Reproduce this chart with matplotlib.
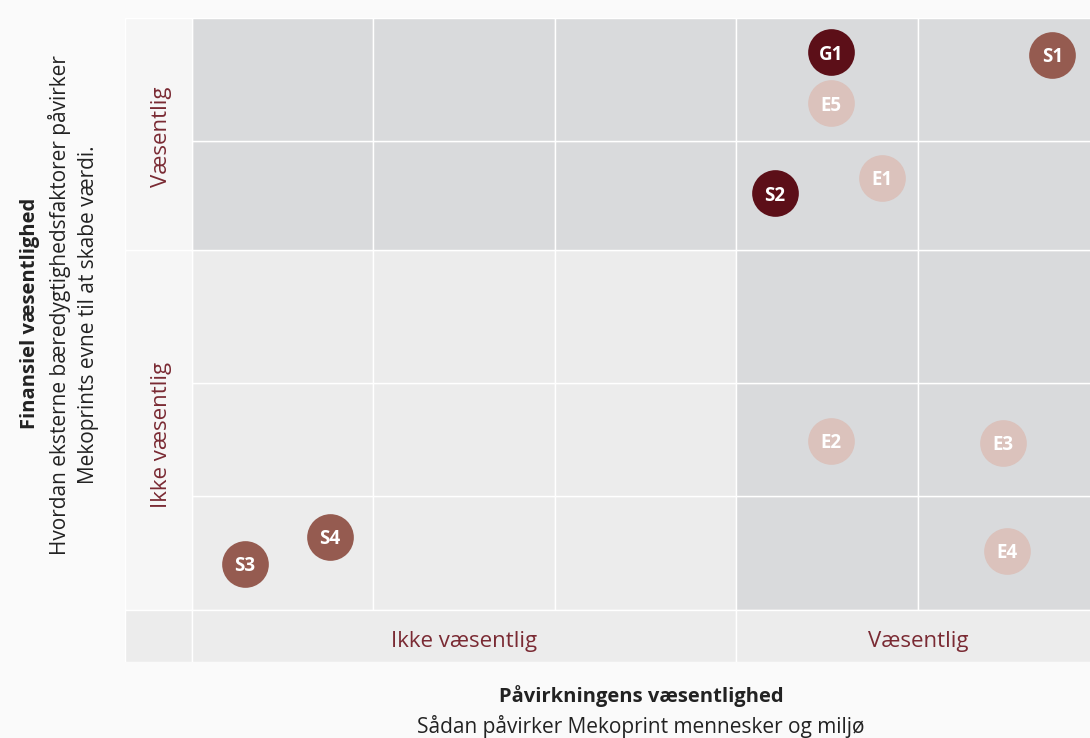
import matplotlib.pyplot as plt
from matplotlib.patches import Rectangle

# materiality matrix: x = impact materiality, y = financial materiality
labels = ["G1", "S1", "E5", "E1", "S2", "E2", "E3", "E4", "S3", "S4"]
x_vals = [3.52, 4.74, 3.52, 3.80, 3.21, 3.52, 4.47, 4.49, 0.29, 0.76]
y_vals = [4.71, 4.69, 4.28, 3.65, 3.52, 1.43, 1.41, 0.50, 0.39, 0.62]
groups = ["dark", "mid", "light", "light", "dark", "light", "light", "light", "mid", "mid"]

col_edges = [0, 1, 2, 3, 4, 5]
row_edges = [0, 0.96, 1.92, 3.04, 3.96, 5]

x_cat_labels = ["Ikke væsentlig", "Væsentlig"]
y_cat_labels = ["Ikke væsentlig", "Væsentlig"]

colors = {"dark": "#5c0f18", "mid": "#955b50", "light": "#dbc2bc"}
dark_bg = "#d9dadc"
light_bg = "#ececec"
band_bg = "#f6f6f6"
maroon = "#7a2a33"
text_col = "#222222"

plt.rcParams['font.family'] = ['Open Sans', 'DejaVu Sans']

fig = plt.figure(figsize=(10.9, 7.38), dpi=100)
fig.patch.set_facecolor("#fafafa")

x0, x1 = -0.369, 4.948
y0, y1 = -0.44, 5.0
ax = fig.add_axes([125 / 1090, 76 / 738, 965 / 1090, 644 / 738])
ax.set_xlim(x0, x1)
ax.set_ylim(y0, y1)
ax.axis("off")

# cells
for i in range(5):
    for j in range(5):
        fc = dark_bg if (j >= 3 or i >= 3) else light_bg
        ax.add_patch(Rectangle((col_edges[i], row_edges[j]),
                               col_edges[i + 1] - col_edges[i],
                               row_edges[j + 1] - row_edges[j],
                               facecolor=fc, edgecolor="white", lw=1.0))

# left band
ax.add_patch(Rectangle((x0, 0), -x0, row_edges[3], facecolor=band_bg,
                       edgecolor="white", lw=1.0))
ax.add_patch(Rectangle((x0, row_edges[3]), -x0, y1 - row_edges[3],
                       facecolor=band_bg, edgecolor="white", lw=1.0))
# bottom band
ax.add_patch(Rectangle((x0, y0), -x0, -y0, facecolor=light_bg,
                       edgecolor="white", lw=1.0))
ax.add_patch(Rectangle((0, y0), 3, -y0, facecolor=light_bg,
                       edgecolor="white", lw=1.0))
ax.add_patch(Rectangle((3, y0), 2, -y0, facecolor=light_bg,
                       edgecolor="white", lw=1.0))

ax.text(1.5, -0.27, x_cat_labels[0], ha="center", va="center",
        color=maroon, fontsize=16)
ax.text(4.0, -0.27, x_cat_labels[1], ha="center", va="center",
        color=maroon, fontsize=16)
ax.text(-0.17, 1.48, y_cat_labels[0], ha="center", va="center",
        color=maroon, fontsize=16, rotation=90)
ax.text(-0.17, 4.0, y_cat_labels[1], ha="center",
        va="center", color=maroon, fontsize=16, rotation=90)

# bubbles
for lab, xv, yv, g in zip(labels, x_vals, y_vals, groups):
    ax.scatter(xv, yv, s=1130, color=colors[g], zorder=3, linewidths=0)
    ax.text(xv, yv - 0.02, lab, ha="center", va="center", color="white",
            fontsize=13.5, fontweight="bold", zorder=4)

# axis titles
fig.text(30 / 1090, 1 - 313 / 738, "Finansiel væsentlighed", rotation=90,
         ha="center", va="center", fontsize=14.5, fontweight="bold", color=text_col)
fig.text(60 / 1090, 1 - 305 / 738,
         "Hvordan eksterne bæredygtighedsfaktorer påvirker",
         rotation=90, ha="center", va="center", fontsize=15, color=text_col)
fig.text(89 / 1090, 1 - 315 / 738, "Mekoprints evne til at skabe værdi.",
         rotation=90, ha="center", va="center", fontsize=15, color=text_col)
fig.text(641 / 1090, 1 - 696 / 738, "Påvirkningens væsentlighed",
         ha="center", va="center", fontsize=14.5, fontweight="bold", color=text_col)
fig.text(641 / 1090, 1 - 727 / 738,
         "Sådan påvirker Mekoprint mennesker og miljø",
         ha="center", va="center", fontsize=15, color=text_col)

fig.savefig("out.png", dpi=100, facecolor=fig.get_facecolor())
